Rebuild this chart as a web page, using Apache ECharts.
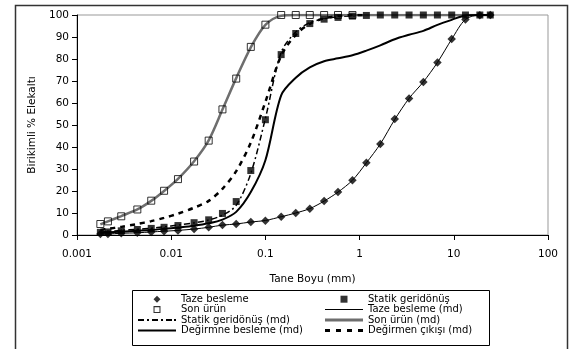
<!DOCTYPE html>
<html>
<head>
<meta charset="utf-8">
<script src="https://cdn.jsdelivr.net/npm/echarts@6/dist/echarts.min.js"></script>
<style>
html,body{margin:0;padding:0;background:#fff;}
#chart{width:570px;height:349px;}
</style>
</head>
<body>
<div id="chart"></div>
<script>
// Particle sizes (mm)
var sizes = [0.00177, 0.00213, 0.00295, 0.00437, 0.00614, 0.0084, 0.0118, 0.0175, 0.025, 0.035, 0.049, 0.07, 0.1, 0.147, 0.21, 0.296, 0.42, 0.59, 0.84, 1.18, 1.66, 2.36, 3.35, 4.75, 6.7, 9.5, 13.3, 18.9, 24.4];

// Measured data (cumulative % passing)
var tazeBesleme = [0.5, 0.5, 0.8, 1.0, 1.4, 1.7, 2.1, 2.7, 3.5, 4.5, 5.0, 5.9, 6.5, 8.3, 10.0, 11.9, 15.4, 19.5, 24.9, 32.8, 41.4, 52.7, 62.1, 69.5, 78.4, 89.1, 97.9, 99.9, 100];
var statikGeridonus = [1.2, 1.4, 1.9, 2.5, 3.0, 3.5, 4.3, 5.6, 6.9, 9.8, 15.2, 29.3, 52.4, 82.0, 91.6, 96.1, 98.1, 98.9, 99.5, 99.8, 100, 100, 100, 100, 100, 100, 100, 100, 100];
var sonUrun = [5.0, 6.2, 8.5, 11.6, 15.6, 20.1, 25.4, 33.4, 42.9, 57.1, 71.1, 85.5, 95.6, 100, 100, 100, 100, 100, 100];

// Model curves (md)
var tazeBeslemeMd = [0.5, 0.5, 0.8, 1.0, 1.4, 1.7, 2.1, 2.7, 3.5, 4.5, 5.0, 5.9, 6.6, 8.3, 10.0, 12.0, 15.4, 19.5, 24.9, 32.8, 41.4, 52.5, 62.1, 69.6, 78.4, 89.0, 98.0, 100, 100];
var statikGeridonusMd = [1.3, 1.6, 2.1, 2.6, 3.1, 3.7, 4.5, 5.5, 6.8, 9.0, 13.5, 28.0, 53.0, 83.0, 92.3, 96.5, 98.3, 99.2, 99.6, 99.9, 100, 100, 100, 100, 100, 100, 100, 100, 100];
var sonUrunMd = [4.8, 6.2, 8.6, 11.6, 15.5, 20.0, 25.5, 33.5, 43.0, 57.0, 71.3, 85.3, 95.5, 99.6, 100, 100, 100, 100, 100, 100, 100, 100, 100, 100, 100, 100, 100, 100, 100];
var degirmneBeslemeMd = [1.0, 1.2, 1.5, 1.9, 2.3, 2.8, 3.4, 4.2, 5.3, 7.0, 10.5, 19.5, 34.0, 63.5, 71.5, 76.2, 79.0, 80.3, 81.7, 83.8, 86.2, 89.0, 91.0, 92.8, 95.5, 97.8, 99.8, 100, 100];
var degirmenCikisiMd = [2.3, 2.8, 3.7, 5.0, 6.3, 7.8, 9.7, 12.4, 15.5, 21.0, 29.0, 42.0, 60.5, 81.5, 91.0, 96.0, 98.5, 99.5, 100, 100];

// Axis tick labels
var xTickLabels = ['0.001', '0.01', '0.1', '1', '10', '100'];
var yTickLabels = ['0', '10', '20', '30', '40', '50', '60', '70', '80', '90', '100'];

function pairs(vals) {
  var out = [];
  for (var i = 0; i < vals.length; i++) out.push([sizes[i], vals[i]]);
  return out;
}

var FONT = 'DejaVu Sans';
var chart = echarts.init(document.getElementById('chart'), null, {renderer: 'canvas'});

var legendText = {fontSize: 10, fontFamily: FONT, color: '#000', lineHeight: 10.4, padding: 0};
var icons = {
  'Taze besleme': 'path://M4,0L8,4L4,8L0,4Z',
  'Statik geridönüş': 'path://M0,0h8v8h-8z',
  'Son ürün': 'path://M0,0h8v8h-8z M1.2,1.2v5.6h5.6v-5.6z',
  'Taze besleme (md)': 'path://M0,0h38v1h-38z',
  'Statik geridönüş (md)': 'path://M0,0h6v2h-6z M9,0h2v2h-2z M14,0h6v2h-6z M23,0h2v2h-2z M28,0h6v2h-6z M36,0h2v2h-2z',
  'Son ürün (md)': 'path://M0,0h38v3h-38z',
  'Değirmne besleme (md)': 'path://M0,0h38v2h-38z',
  'Değirmen çıkışı (md)': 'path://M0,0h5v3h-5z M11,0h5v3h-5z M22,0h5v3h-5z M33,0h5v3h-5z'
};
function legendItem(n) {
  return {name: n, icon: icons[n], itemStyle: {color: n === 'Son ürün (md)' ? '#6e6e6e' : '#000', borderWidth: 0}};
}
var legendBase = {
  orient: 'vertical', top: 294, itemWidth: 38, itemHeight: 7, itemGap: 0, padding: 0,
  selectedMode: false, textStyle: legendText, itemStyle: {borderWidth: 0}, symbolKeepAspect: true
};

var option = {
  backgroundColor: '#fff',
  animation: false,
  grid: {left: 77, right: 22, top: 15, bottom: 114, show: true, borderColor: '#999', borderWidth: 1, backgroundColor: 'transparent'},
  xAxis: {
    type: 'log', logBase: 10, min: 0.001, max: 100,
    name: 'Tane Boyu (mm)', nameLocation: 'middle', nameGap: 39,
    nameTextStyle: {fontSize: 10.5, fontFamily: FONT, color: '#000'},
    axisLine: {lineStyle: {color: '#000', width: 1}},
    axisTick: {show: true, length: 5, lineStyle: {color: '#000'}},
    minorTick: {show: false},
    splitLine: {show: false},
    axisLabel: {
      margin: 14, fontSize: 10.5, fontFamily: FONT, color: '#000',
      formatter: function (v) { var i = Math.round(Math.log(v) / Math.LN10) + 3; return xTickLabels[i] || ''; }
    }
  },
  yAxis: {
    type: 'value', min: 0, max: 100, interval: 10,
    name: 'Birikimli % Elekaltı', nameLocation: 'middle', nameGap: 38,
    nameTextStyle: {fontSize: 10.5, fontFamily: FONT, color: '#000'},
    axisLine: {show: true, lineStyle: {color: '#000', width: 1}},
    axisTick: {show: true, length: 5, lineStyle: {color: '#000'}},
    splitLine: {show: false},
    axisLabel: {
      margin: 8, fontSize: 10.5, fontFamily: FONT, color: '#000',
      formatter: function (v) { return yTickLabels[Math.round(v / 10)]; }
    }
  },
  legend: [
    Object.assign({}, legendBase, {left: 138, data: ['Taze besleme', 'Son ürün', 'Statik geridönüş (md)', 'Değirmne besleme (md)'].map(legendItem)}),
    Object.assign({}, legendBase, {left: 325, data: ['Statik geridönüş', 'Taze besleme (md)', 'Son ürün (md)', 'Değirmen çıkışı (md)'].map(legendItem)})
  ],
  graphic: [
    {type: 'rect', left: 13, top: 3, shape: {x: 0, y: 0, width: 552, height: 360}, style: {fill: 'none', stroke: '#333', lineWidth: 1.5}, silent: true, z: 100},
    {type: 'rect', shape: {x: 132.5, y: 290.5, width: 357, height: 55}, style: {fill: 'none', stroke: '#000', lineWidth: 1}, silent: true, z: 100}
  ],
  series: [
    {name: 'Taze besleme (md)', type: 'line', data: pairs(tazeBeslemeMd), smooth: 0.3, showSymbol: false, symbol: 'none', lineStyle: {color: '#000', width: 1}, itemStyle: {color: '#000'}, z: 2},
    {name: 'Statik geridönüş (md)', type: 'line', data: pairs(statikGeridonusMd), smooth: 0.3, showSymbol: false, symbol: 'none', lineStyle: {color: '#000', width: 1.5, type: [6, 3, 2, 3]}, itemStyle: {color: '#000'}, z: 2},
    {name: 'Son ürün (md)', type: 'line', data: pairs(sonUrunMd), smooth: 0.3, showSymbol: false, symbol: 'none', lineStyle: {color: '#6e6e6e', width: 2.5}, itemStyle: {color: '#6e6e6e'}, z: 2},
    {name: 'Değirmne besleme (md)', type: 'line', data: pairs(degirmneBeslemeMd), smooth: 0.3, showSymbol: false, symbol: 'none', lineStyle: {color: '#000', width: 2}, itemStyle: {color: '#000'}, z: 2},
    {name: 'Değirmen çıkışı (md)', type: 'line', data: pairs(degirmenCikisiMd), smooth: 0.3, showSymbol: false, symbol: 'none', lineStyle: {color: '#000', width: 2.5, type: [5, 5]}, itemStyle: {color: '#000'}, z: 2},
    {name: 'Taze besleme', type: 'scatter', data: pairs(tazeBesleme), symbol: 'diamond', symbolSize: 8.5, itemStyle: {color: '#000'}, z: 4},
    {name: 'Statik geridönüş', type: 'scatter', data: pairs(statikGeridonus), symbol: 'rect', symbolSize: 7, itemStyle: {color: '#000'}, z: 4},
    {name: 'Son ürün', type: 'scatter', data: pairs(sonUrun), symbol: 'rect', symbolSize: 7, itemStyle: {color: 'rgba(255,255,255,0)', borderColor: '#000', borderWidth: 1}, z: 5}
  ]
};
chart.setOption(option);
</script>
</body>
</html>
